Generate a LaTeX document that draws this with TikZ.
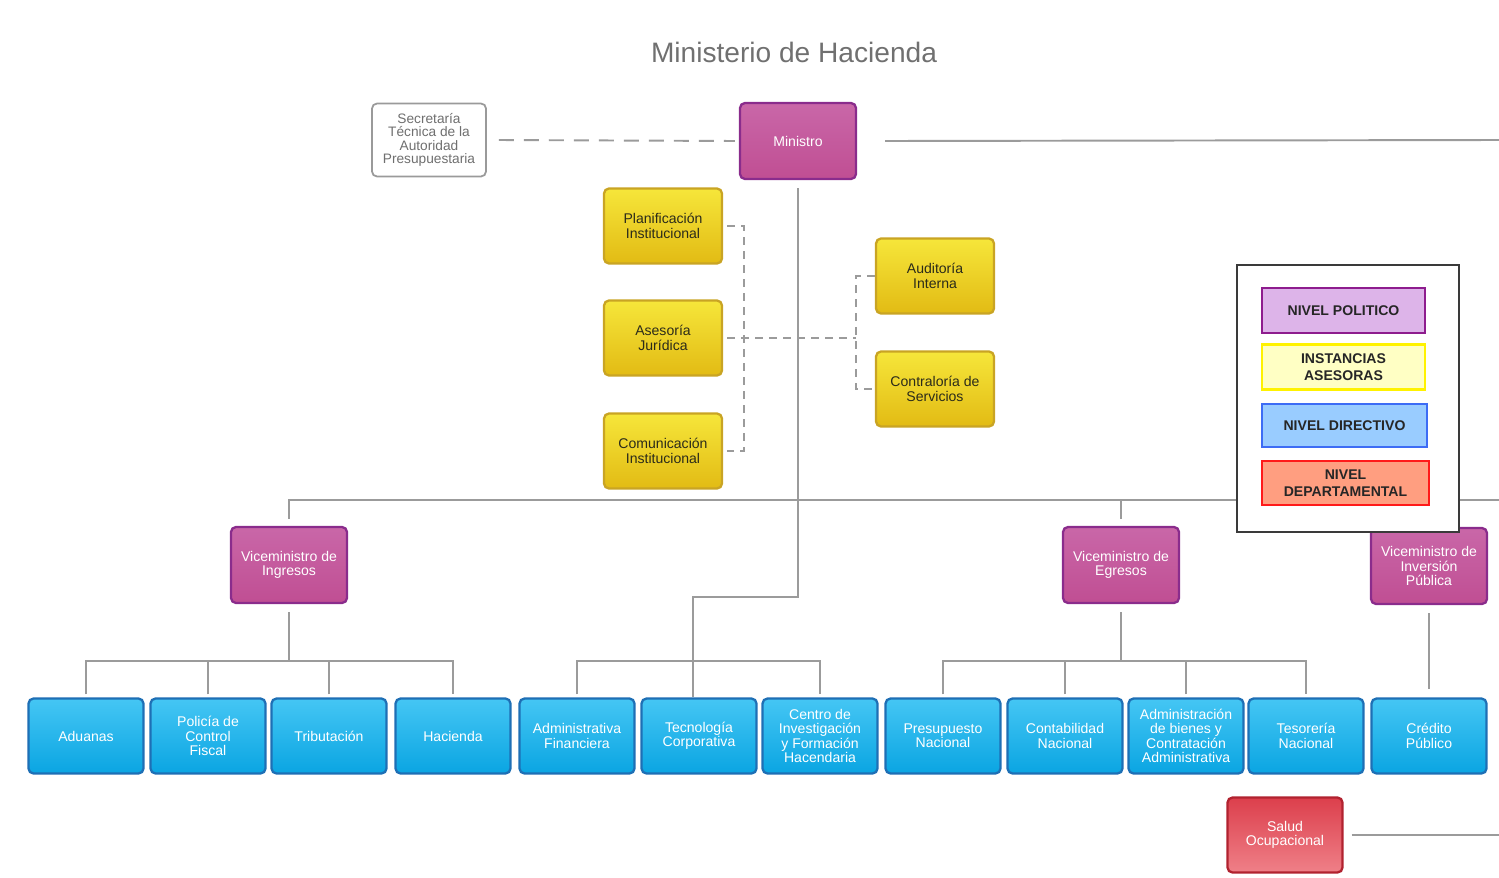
\documentclass[tikz,border=0pt]{standalone}
\usepackage{fontspec}
\setmainfont{Liberation Sans}
\definecolor{purTop}{HTML}{C967A8}
\definecolor{purBot}{HTML}{C04E93}
\definecolor{purBorder}{HTML}{8A2C8C}
\definecolor{yelTop}{HTML}{F6E63A}
\definecolor{yelBot}{HTML}{E2BB14}
\definecolor{yelBorder}{HTML}{C9A424}
\definecolor{yelText}{HTML}{2B2B1A}
\definecolor{bluTop}{HTML}{45C6F4}
\definecolor{bluBot}{HTML}{0AA5E2}
\definecolor{bluBorder}{HTML}{1E6FB5}
\definecolor{redTop}{HTML}{DC3F4C}
\definecolor{redBot}{HTML}{EF8088}
\definecolor{redBorder}{HTML}{B1222F}
\definecolor{lineGray}{HTML}{9B9B9B}
\definecolor{secGray}{HTML}{9A9A9A}
\definecolor{secText}{HTML}{6F6F6F}
\definecolor{titleGray}{HTML}{707070}
\definecolor{polFill}{HTML}{DDB4E9}
\definecolor{polDraw}{HTML}{8E1C8E}
\definecolor{insFill}{HTML}{FFFFC4}
\definecolor{insDraw}{HTML}{FFF200}
\definecolor{dirFill}{HTML}{99CCFF}
\definecolor{dirDraw}{HTML}{3D6CF5}
\definecolor{depFill}{HTML}{FF9E80}
\definecolor{depDraw}{HTML}{FF1A1A}
\definecolor{frameCol}{HTML}{3A3A3A}
\begin{document}
\begin{tikzpicture}[x=0.2mm,y=-0.2mm,
  box/.style={rounded corners=1mm, minimum width=23mm, minimum height=15mm,
    align=center, font=\fontsize{8}{8.2}\selectfont, line width=1.3pt, inner sep=1pt},
  purbox/.style={box, minimum width=23.2mm, minimum height=15.2mm, draw=purBorder,
    top color=purTop, bottom color=purBot, text=white},
  yelbox/.style={box, minimum width=23.6mm, draw=yelBorder,
    top color=yelTop, bottom color=yelBot, text=yelText},
  blubox/.style={box, draw=bluBorder, top color=bluTop, bottom color=bluBot, text=white},
  redbox/.style={box, draw=redBorder, top color=redTop, bottom color=redBot, text=white},
  secbox/.style={box, minimum width=22.8mm, minimum height=14.6mm, draw=secGray,
    fill=white, text=secText, line width=1pt, font=\fontsize{7.8}{7.6}\selectfont},
  conn/.style={draw=lineGray, line width=1.1pt},
  dashconn/.style={conn, dash pattern=on 1.6mm off 1.2mm},
  legitem/.style={line width=1.3pt, align=center, text=black!85,
    font=\bfseries\fontsize{8}{9.6}\selectfont, minimum height=9mm, inner sep=1pt},
  legframe/.style={draw=frameCol, fill=white, line width=1.2pt,
    minimum width=44.4mm, minimum height=53.4mm}
]
\useasboundingbox (0,0) rectangle (1499,877);

% title
\node[font=\fontsize{16}{18}\selectfont, text=titleGray] (title) at (794,52) {Ministerio de Hacienda};

% top level
\node[secbox] (sec) at (429,140) {Secretaría\\Técnica de la\\Autoridad\\Presupuestaria};
\node[purbox] (min) at (798,141) {Ministro};

% advisory
\node[yelbox] (pla) at (663,226) {Planificación\\Institucional};
\node[yelbox] (ase) at (663,338) {Asesoría\\Jurídica};
\node[yelbox] (com) at (663,451) {Comunicación\\Institucional};
\node[yelbox] (aud) at (935,276) {Auditoría\\Interna};
\node[yelbox] (con) at (935,389) {Contraloría de\\Servicios};

% vice ministers
\node[purbox] (ing) at (289,565) {Viceministro de\\Ingresos};
\node[purbox] (egr) at (1121,565) {Viceministro de\\Egresos};
\node[purbox] (inv) at (1429,566) {Viceministro de\\Inversión\\Pública};

% directorates
\node[blubox] (adu) at (86,736) {Aduanas};
\node[blubox] (pol) at (208,736) {Policía de\\Control\\Fiscal};
\node[blubox] (tri) at (329,736) {Tributación};
\node[blubox] (hac) at (453,736) {Hacienda};
\node[blubox] (adm) at (577,736) {Administrativa\\Financiera};
\node[blubox] (tec) at (699,736) {Tecnología\\Corporativa};
\node[blubox] (cen) at (820,736) {Centro de\\Investigación\\y Formación\\Hacendaria};
\node[blubox] (pre) at (943,736) {Presupuesto\\Nacional};
\node[blubox] (cnt) at (1065,736) {Contabilidad\\Nacional};
\node[blubox] (abc) at (1186,736) {Administración\\de bienes y\\Contratación\\Administrativa};
\node[blubox] (tes) at (1306,736) {Tesorería\\Nacional};
\node[blubox] (cre) at (1429,736) {Crédito\\Público};

\node[redbox] (sal) at (1285,835) {Salud\\Ocupacional};

% coordinates
\coordinate (rEdge1) at (1499,140);
\coordinate (h500R) at (1499,500);
\coordinate (tb) at (693,597);
\coordinate (jIng) at (289,661);
\coordinate (jMid) at (693,661);
\coordinate (jEgr) at (1121,661);
\coordinate (brL) at (744,338);
\coordinate (brR) at (856,338);
\coordinate (rEdge2) at (1499,835);

% connectors
\draw[conn, dash pattern=on 3mm off 2mm] ([xshift=2.4mm]sec.east) -- ([xshift=-0.8mm]min.west);
\draw[conn] ([xshift=5.6mm]min.east) -- (rEdge1);
\draw[conn] ([yshift=-1.6mm]min.south) -- (min.south |- tb) -- (tb) -- (tb |- tec.north);

\draw[dashconn] ([xshift=0.8mm]pla.east) -| (brL) |- ([xshift=0.8mm]com.east);
\draw[dashconn] ([xshift=0.8mm]ase.east) -- (brR);
\draw[dashconn] (aud.west) -| (brR) |- (con.west);

\draw[conn] ([yshift=1.4mm]ing.north) -- (ing.north |- h500R) -- (h500R);
\draw[conn] ([yshift=1.4mm]egr.north) -- (egr.north |- h500R);
\draw[conn] (inv.north) -- (inv.north |- h500R);

\draw[conn] ([yshift=-1.6mm]ing.south) -- (jIng);
\draw[conn] ([yshift=0.6mm]adu.north) -- (adu.north |- jIng) -- (hac.north |- jIng) -- ([yshift=0.6mm]hac.north);
\draw[conn] ([yshift=0.6mm]pol.north) -- (pol.north |- jIng);
\draw[conn] ([yshift=0.6mm]tri.north) -- (tri.north |- jIng);

\draw[conn] ([yshift=0.6mm]adm.north) -- (adm.north |- jMid) -- (cen.north |- jMid) -- ([yshift=0.6mm]cen.north);

\draw[conn] ([yshift=-1.6mm]egr.south) -- (jEgr);
\draw[conn] ([yshift=0.6mm]pre.north) -- (pre.north |- jEgr) -- (tes.north |- jEgr) -- ([yshift=0.6mm]tes.north);
\draw[conn] ([yshift=0.6mm]cnt.north) -- (cnt.north |- jEgr);
\draw[conn] ([yshift=0.6mm]abc.north) -- (abc.north |- jEgr);

\draw[conn] ([yshift=-1.6mm]inv.south) -- ([yshift=1.6mm]cre.north);
\draw[conn] ([xshift=1.6mm]sal.east) -- (rEdge2);

% legend
\node[legframe] (legend) at (1348,398.5) {};
\node[legitem, draw=polDraw, fill=polFill, minimum width=32.6mm] (lpol) at (1343.5,310.5) {NIVEL POLITICO};
\node[legitem, draw=insDraw, fill=insFill, minimum width=32.6mm] (lins) at (1343.5,367) {INSTANCIAS\\ASESORAS};
\node[legitem, draw=dirDraw, fill=dirFill, minimum width=33mm, minimum height=8.6mm] (ldir) at (1344.5,425.5) {NIVEL DIRECTIVO};
\node[legitem, draw=depDraw, fill=depFill, minimum width=33.4mm, minimum height=8.8mm] (ldep) at (1345.5,483) {NIVEL\\DEPARTAMENTAL};
\end{tikzpicture}
\end{document}
